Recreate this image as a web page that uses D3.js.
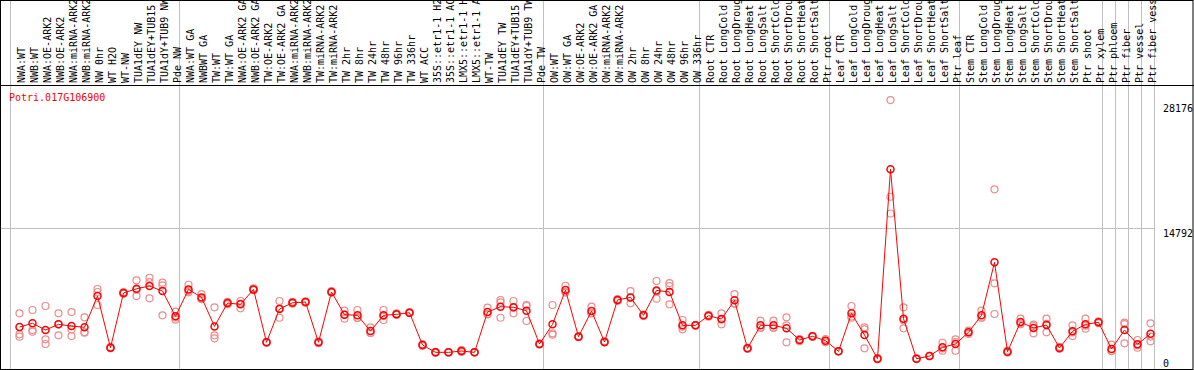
<!DOCTYPE html>
<html>
<head>
<meta charset="utf-8">
<script src="https://cdn.jsdelivr.net/npm/d3@7"></script>
<style>
  body { margin: 0; background: #fff; }
  text { font-family: "DejaVu Sans Mono", monospace; font-size: 10px; }
</style>
</head>
<body>
<div id="chart"></div>
<script>
const width = 1194;
const height = 370;

const geneName = "Potri.017G106900";

const samples = [
  "NWA:WT", "NWB:WT", "NWA:OE-ARK2", "NWB:OE-ARK2", "NWA:miRNA-ARK2", "NWB:miRNA-ARK2",
  "NW 0hr", "WT H2O", "WT-NW", "TUA1dEY NW", "TUA1dEY+TUB15", "TUA1dY+TUB9 NW", "Pde NW",
  "NWA:WT GA", "NWBWT GA", "TW:WT", "TW:WT GA", "NWA:OE-ARK2 GA", "NWB:OE-ARK2 GA",
  "TW:OE-ARK2", "TW:OE-ARK2 GA", "NWA:miRNA-ARK2", "NWB:miRNA-ARK2", "TW:miRNA-ARK2",
  "TW:miRNA-ARK2", "TW 2hr", "TW 8hr", "TW 24hr", "TW 48hr", "TW 96hr", "TW 336hr",
  "WT ACC", "35S::etr1-1 H2", "35S::etr1-1 AC", "LMX5::etr1-1 H", "LMX5::etr1-1 A",
  "WT-TW", "TUA1dEY TW", "TUA1dEY+TUB15", "TUA1dY+TUB9 TW", "Pde TW",
  "OW:WT", "OW:WT GA", "OW:OE-ARK2", "OW:OE-ARK2 GA", "OW:miRNA-ARK2", "OW:miRNA-ARK2",
  "OW 2hr", "OW 8hr", "OW 24hr", "OW 48hr", "OW 96hr", "OW 336hr",
  "Root CTR", "Root LongCold", "Root LongDroug", "Root LongHeat", "Root LongSalt",
  "Root ShortCold", "Root ShortDrou", "Root ShortHeat", "Root ShortSalt", "Ptr root",
  "Leaf CTR", "Leaf LongCold", "Leaf LongDroug", "Leaf LongHeat", "Leaf LongSalt",
  "Leaf ShortCold", "Leaf ShortDrou", "Leaf ShortHeat", "Leaf ShortSalt", "Ptr leaf",
  "Stem CTR", "Stem LongCold", "Stem LongDroug", "Stem LongHeat", "Stem LongSalt",
  "Stem ShortCold", "Stem ShortDrou", "Stem ShortHeat", "Stem ShortSalt", "Ptr shoot",
  "Ptr xylem", "Ptr phloem", "Ptr fiber", "Ptr vessel", "Ptr fiber vess"
];

// mean expression per sample
const means = [
  4190, 4590, 3870, 4480, 4300, 4160, 7525, 1970, 7850, 8310,
  8600, 8060, 5340, 8240, 7380, 4260, 6770, 6630, 8240, 2550,
  6130, 6800, 6880, 2550, 7960, 5520, 5450, 3760, 5450, 5560,
  5730, 2260, 1470, 1470, 1610, 1470, 5800, 6380, 6310, 5950,
  2365, 4480, 8170, 3150, 5910, 2580, 7100, 7380, 5450, 8130,
  7960, 4370, 4370, 5410, 5050, 7060, 1900, 4370, 4370, 4050,
  2795, 3190, 2720, 1580, 5660, 3330, 785, 21150, 5090, 785,
  1075, 2010, 2365, 3620, 5450, 11150, 1540, 4730, 4085, 4410,
  1935, 3730, 4480, 4700, 1830, 3870, 2330, 3470
];

// replicates
const rep1 = [
  5660, 6020, 6450, 5660, 5800, 5230, 8280, 2050, 7950, 9210,
  9490, 8960, 5840, 8740, 7740, 6310, 6900, 6990, 8350, 2600,
  6990, 6900, 6950, 2650, 8050, 5950, 6020, 4160, 6020, 5650,
  5800, 2350, 1520, 1500, 1700, 1500, 6270, 7100, 6990, 6560,
  2420, 6560, 8630, 3220, 6380, 2650, 7200, 8060, 5520, 9140,
  8920, 4945, 4400, 5500, 5660, 7740, 1950, 4870, 4870, 5230,
  2900, 3250, 2900, 1600, 6450, 4160, 850, 28600, 6310, 830,
  1100, 2500, 2870, 3800, 5950, 19000, 1650, 5090, 4300, 5090,
  2050, 4370, 5090, 4800, 2290, 4660, 2795, 4590
];
const rep2 = [
  3410, 3870, 2870, 3300, 3940, 3580, 7960, 1900, 7800, 7525,
  9030, 8670, 4980, 7920, 7200, 3300, 6650, 6200, 8150, 2500,
  5190, 6700, 6800, 2450, 7900, 5090, 5150, 3560, 4945, 5500,
  5700, 2150, 1420, 1450, 1500, 1440, 5560, 5190, 5660, 4840,
  2300, 3510, 7900, 3100, 5650, 2520, 7000, 6740, 5380, 7240,
  8600, 3940, 4340, 5300, 4480, 6750, 1850, 4100, 4100, 2550,
  2650, 3130, 2550, 1560, 5200, 1900, 720, 18200, 4050, 740,
  1050, 1650, 1650, 3450, 5200, 8890, 1440, 4500, 3510, 3620,
  1850, 3220, 4010, 4600, 1600, 2440, 1970, 2655
];
const rep3 = [
  3150, 3690, 2365, 4480, 3220, 3650, 6560, 1970, 7800, 8200,
  7280, 5450, 5200, 8060, 7200, 2980, 6770, 6700, 8240, 2550,
  6200, 6800, 6880, 2550, 7930, 5520, 5180, 3560, 5390, 5530,
  5690, 2280, 1470, 1460, 1630, 1470, 5570, 6850, 6280, 6450,
  2375, 3370, 7980, 3130, 5700, 2570, 7100, 7340, 5450, 8010,
  6630, 4225, 4370, 5430, 5010, 6690, 1900, 4140, 4140, 4370,
  2835, 3190, 2710, 1580, 5330, 3930, 785, 16400, 4910, 785,
  1075, 1880, 2575, 3610, 5200, 5590, 1530, 4600, 4445, 4520,
  1905, 3600, 4340, 4700, 1600, 4510, 2225, 3165
];

// sample group boundaries (index of first sample after a separator)
const groupBreaks = [0, 13, 41, 53, 63, 73, 84, 85, 86, 87, 88];
const yTicks = [0, 14792, 28176];

const svg = d3.select("#chart")
  .append("svg")
  .attr("width", width)
  .attr("height", height);

const x = d3.scaleBand()
  .domain(d3.range(samples.length))
  .range([10.5, 1154.5]);
const step = x.step();
const cx = (i) => x(i) + 9;

const y = d3.scaleLinear()
  .domain([0, 28176])
  .range([366, 104]);

//grid lines
svg.append("g")
  .selectAll("line")
  .data(groupBreaks)
  .enter()
  .append("line")
  .attr("x1", (d) => Math.round(10 + d * step) + 0.5)
  .attr("x2", (d) => Math.round(10 + d * step) + 0.5)
  .attr("y1", 0)
  .attr("y2", 369)
  .attr("stroke", "#c0c0c0");

svg.append("line")
  .attr("x1", 0)
  .attr("x2", 1155)
  .attr("y1", Math.round(y(14792)) + 0.5)
  .attr("y2", Math.round(y(14792)) + 0.5)
  .attr("stroke", "#c0c0c0");

//frame
svg.append("rect")
  .attr("x", 0.5)
  .attr("y", 0.5)
  .attr("width", width - 1.5)
  .attr("height", 369)
  .attr("fill", "none")
  .attr("stroke", "#000");
svg.append("line")
  .attr("x1", 0)
  .attr("x2", width)
  .attr("y1", 85.5)
  .attr("y2", 85.5)
  .attr("stroke", "#000");

//sample labels
svg.append("g")
  .selectAll("text")
  .data(samples)
  .enter()
  .append("text")
  .attr("transform", (d, i) => "translate(" + (cx(i) + 5.5) + ",83) rotate(-90)")
  .attr("fill", "#000")
  .text((d) => d);

//gene name
svg.append("text")
  .attr("x", 9)
  .attr("y", 101)
  .attr("fill", "#ff0000")
  .text(geneName);

//right axis
const yAxis = svg.append("g")
  .attr("transform", "translate(1161,0)")
  .call(d3.axisRight(y).tickValues(yTicks).tickSize(0).tickPadding(2).tickFormat((d) => d));
yAxis.select(".domain").remove();
yAxis.selectAll("text")
  .style("font-family", "DejaVu Sans Mono, monospace")
  .style("font-size", "10px")
  .attr("fill", "#000")
  .attr("dy", (d) => (d === 0 ? "0em" : "0.78em"));

//replicate points
const reps = [rep1, rep2, rep3];
const repPoints = [];
reps.forEach((r) => r.forEach((v, i) => repPoints.push({ i: i, v: v })));

svg.append("g")
  .selectAll("circle")
  .data(repPoints)
  .enter()
  .append("circle")
  .attr("cx", (d) => cx(d.i))
  .attr("cy", (d) => y(d.v))
  .attr("r", 3.5)
  .attr("fill", "none")
  .attr("stroke", "#ec8c8c")
  .attr("stroke-width", 1.2);

//mean line
const line = d3.line()
  .x((d, i) => cx(i))
  .y((d) => y(d));

svg.append("path")
  .datum(means)
  .attr("d", line)
  .attr("fill", "none")
  .attr("stroke", "#ff0000")
  .attr("stroke-width", 1);

svg.append("g")
  .selectAll("circle")
  .data(means)
  .enter()
  .append("circle")
  .attr("cx", (d, i) => cx(i))
  .attr("cy", (d) => y(d))
  .attr("r", 3.5)
  .attr("fill", "none")
  .attr("stroke", "#ff0000")
  .attr("stroke-width", 1.5);
</script>
</body>
</html>
